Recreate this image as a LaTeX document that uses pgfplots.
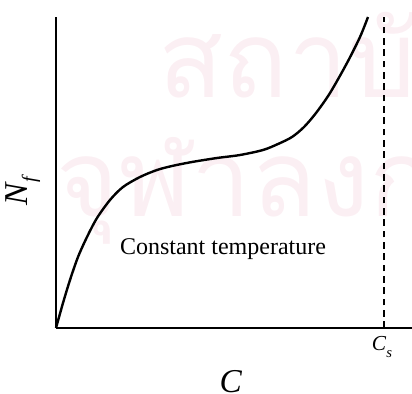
\documentclass[border=0pt]{standalone}
\usepackage{pgfplots}
\pgfplotsset{compat=1.18}
\usepackage{fontspec}
\setmainfont{Liberation Serif}
\newfontfamily\thaifont[Script=Thai]{Loma}
\definecolor{wm}{RGB}{251,239,243}
\begin{document}
\begin{tikzpicture}
\path[use as bounding box] (-42pt,-49.5pt) rectangle (267pt,246pt);
\begin{scope}
\clip (-42pt,-49.5pt) rectangle (267pt,246pt);
\node[anchor=base west,inner sep=0pt,text=wm,font=\thaifont\fontsize{80pt}{82pt}\selectfont] at (77pt,173.25pt) {สถาบันวิทยบริการ};
\node[anchor=base west,inner sep=0pt,text=wm,font=\thaifont\fontsize{80pt}{82pt}\selectfont] at (0pt,84pt) {จุฬาลงกรณ์มหาวิทยาลัย};
\end{scope}
\begin{axis}[
  at={(0,0)}, anchor=south west,
  scale only axis, width=267pt, height=233.25pt,
  xmin=0, xmax=356, ymin=0, ymax=311,
  axis lines=left,
  axis line style={-, line width=1.4pt},
  xtick=\empty, ytick=\empty,
  clip=false,
]
\addplot[line width=1.8pt, smooth] coordinates {
(0,0) (7,25) (14,48) (22,71) (31,91) (41,110) (54,128) (67,141) (84,151)
(101,158) (116,162) (136,166) (161,170) (184,173) (207,178) (222,184)
(236,191) (248,201) (260,215) (274,235) (291,265) (304,291) (312,311)
};
\addplot[line width=0.9pt, dash pattern=on 5pt off 3.5pt] coordinates {(328,0) (328,311)};
\node[font=\fontsize{18pt}{20pt}\selectfont] at (axis cs:167,79) {Constant temperature};
\node[font=\fontsize{25pt}{28pt}\selectfont] at (axis cs:175,-54) {\textit{C}};
\node[font=\fontsize{25pt}{28pt}\selectfont, rotate=90] at (axis cs:-33,138) {\textit{N}\raisebox{-0.25em}{\fontsize{15pt}{16pt}\selectfont\textit{f}}};
\node[font=\fontsize{16pt}{18pt}\selectfont, anchor=north] at (axis cs:326,-4) {\textit{C}\raisebox{-0.3em}{\fontsize{11pt}{12pt}\selectfont\textit{s}}};
\end{axis}
\end{tikzpicture}
\end{document}
